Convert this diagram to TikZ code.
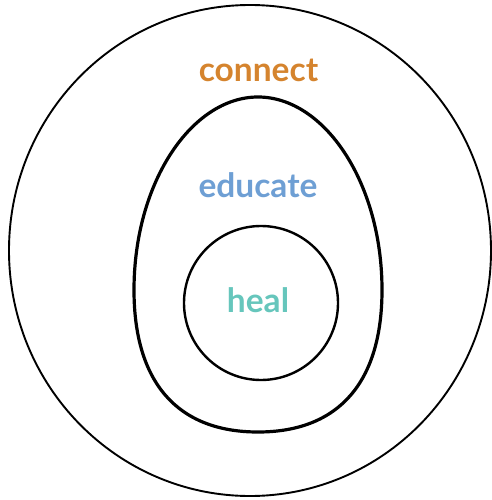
\documentclass[tikz,border=0pt]{standalone}
\usepackage{fontspec}
\setmainfont{Lato}
\definecolor{cconnect}{HTML}{D5842E}
\definecolor{ceducate}{HTML}{6E9FD4}
\definecolor{cheal}{HTML}{66C6BC}
\begin{document}
\begin{tikzpicture}[x=1pt,y=-1pt,
  lbl/.style={font=\fontsize{33.5}{33.5}\selectfont\bfseries, anchor=base, inner sep=0pt}]
\useasboundingbox (0,0) rectangle (491,500);
% outer circle
\draw[line width=1.9pt] (250,250.5) ellipse [x radius=241, y radius=245.5];
% egg
\draw[line width=3.2pt]
  (258,97) .. controls (324,97) and (382,182) .. (382,290)
  .. controls (382,382) and (339,432) .. (258,432)
  .. controls (177,432) and (134,382) .. (134,290)
  .. controls (134,182) and (192,97) .. (258,97) -- cycle;
% inner circle
\draw[line width=2.4pt] (261,303) circle [radius=77];
\node[lbl, text=cconnect] (connect) at (258.5,82) {connect};
\node[lbl, text=ceducate] (educate) at (258,197) {educate};
\node[lbl, text=cheal] (heal) at (258,312) {heal};
\end{tikzpicture}
\end{document}
